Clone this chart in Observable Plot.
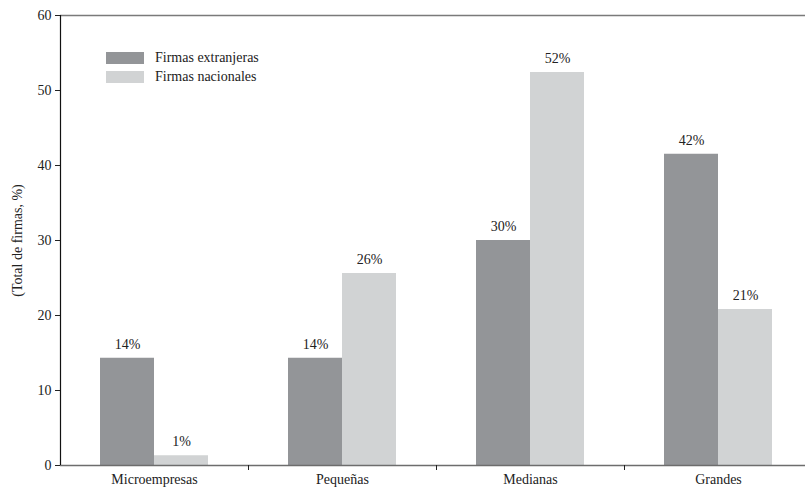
<!DOCTYPE html>
<html>
<head>
<meta charset="utf-8">
<script src="https://cdn.jsdelivr.net/npm/d3@7"></script>
<script src="https://cdn.jsdelivr.net/npm/@observablehq/plot@0.6"></script>
<style>
  body { margin: 0; background: #fff; }
  #wrap { position: relative; width: 805px; height: 488px; font-family: "Liberation Serif", serif; }
  #legend { position: absolute; left: 106px; top: 48px; font-size: 14px; color: #222; }
  .item { display: flex; align-items: center; height: 19px; }
  .sw { width: 38px; height: 12px; margin-right: 11px; }
</style>
</head>
<body>
<div id="wrap"><div id="legend"></div></div>
<script>
const categories = ["Microempresas", "Pequeñas", "Medianas", "Grandes"];
const seriesNames = ["Firmas extranjeras", "Firmas nacionales"];
const extranjeras = [14.3, 14.3, 30.0, 41.5];
const nacionales = [1.3, 25.6, 52.4, 20.8];
const yTicks = [0, 10, 20, 30, 40, 50, 60];
const colors = ["#939598", "#d1d3d4"];

const ext = categories.map((c, i) => ({cat: c, v: extranjeras[i]}));
const nac = categories.map((c, i) => ({cat: c, v: nacionales[i]}));
const fmt = d => Math.round(d.v) + "%";

const chart = Plot.plot({
  width: 805,
  height: 488,
  marginLeft: 60,
  marginTop: 15,
  marginBottom: 23,
  marginRight: 0,
  style: {fontFamily: "Liberation Serif, serif", fontSize: "14px", color: "#222", background: "#fff"},
  x: {domain: categories, range: [60, 812], padding: 0},
  y: {domain: [0, 60]},
  marks: [
    Plot.barY(ext, {x: "cat", y: "v", fill: colors[0], insetLeft: 40, insetRight: 94}),
    Plot.barY(nac, {x: "cat", y: "v", fill: colors[1], insetLeft: 94, insetRight: 40}),
    Plot.text(ext, {x: "cat", y: "v", text: fmt, dx: -27, dy: -14, fill: "#222"}),
    Plot.text(nac, {x: "cat", y: "v", text: fmt, dx: 27, dy: -14, fill: "#222"}),
    Plot.ruleY([60], {stroke: "#7a7a7a", strokeWidth: 1.6}),
    Plot.ruleY([0], {stroke: "#6d6d6d", strokeWidth: 1.6}),
    Plot.ruleX(categories.slice(1), {x: d => d, y1: 0, y2: 0, dx: -94, insetBottom: -5, stroke: "#222"}),
    Plot.ruleX([categories[0]], {x: d => d, dx: -94, stroke: "#111", strokeWidth: 1.2}),
    Plot.axisY({ticks: yTicks, tickSize: 5, tickPadding: 4, label: "(Total de firmas, %)", labelAnchor: "center", labelArrow: "none", labelOffset: 48, fontSize: 14}),
    Plot.axisX({tickSize: 0, tickPadding: 9, label: null, fontSize: 14})
  ]
});

document.getElementById("wrap").prepend(chart);
const legend = document.getElementById("legend");
seriesNames.forEach((name, i) => {
  const it = document.createElement("div");
  it.className = "item";
  it.innerHTML = `<div class="sw" style="background:${colors[i]}"></div><span>${name}</span>`;
  legend.appendChild(it);
});
</script>
</body>
</html>
